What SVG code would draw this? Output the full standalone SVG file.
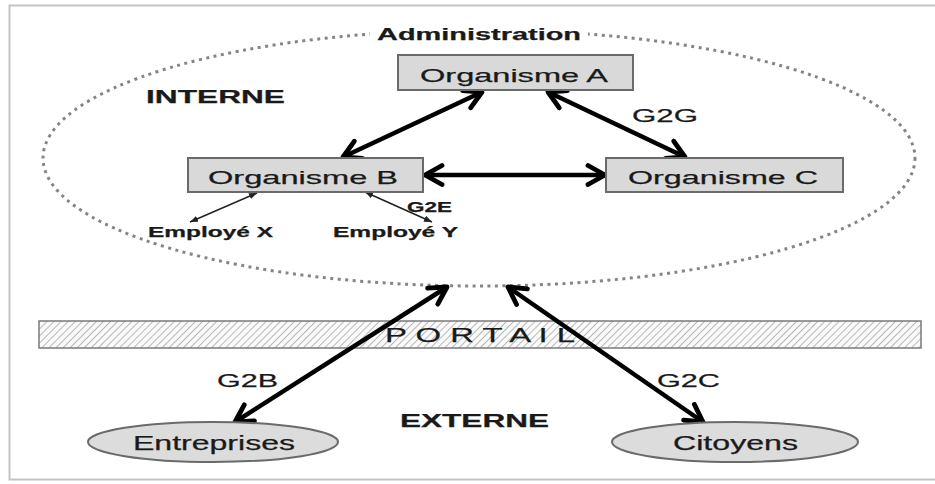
<svg xmlns="http://www.w3.org/2000/svg" width="935" height="484" viewBox="0 0 935 484">
<style>
  text { font-family: "Liberation Sans", Arial, sans-serif; fill: #1a1a1a; stroke: #1a1a1a; stroke-width: 0.25; }
  .box { fill: #d9d9d9; stroke: #6a6a6a; stroke-width: 2; }
  .ell { fill: #dcdcdc; stroke: #6a6a6a; stroke-width: 2; }
  .lbl { font-size: 19px; }
  .bold { font-weight: bold; }
  .thick { stroke: #000; stroke-width: 4.5; fill: none; marker-start: url(#chev); marker-end: url(#chev); }
  .thin { stroke: #222; stroke-width: 1.6; fill: none; marker-start: url(#tri); marker-end: url(#tri); }
</style>
<defs>
  <marker id="chev" markerUnits="userSpaceOnUse" viewBox="0 0 24 24" markerWidth="24" markerHeight="24" refX="21" refY="12" orient="auto-start-reverse">
    <path d="M4,2.5 L21,12 L4,21.5" fill="none" stroke="#000" stroke-width="4.8" stroke-linecap="round" stroke-linejoin="round"/>
  </marker>
  <marker id="tri" markerUnits="userSpaceOnUse" viewBox="0 0 10 10" markerWidth="8" markerHeight="8" refX="10" refY="5" orient="auto-start-reverse">
    <path d="M0,1 L10,5 L0,9 z" fill="#222"/>
  </marker>
  <pattern id="hatch" patternUnits="userSpaceOnUse" width="5" height="5" patternTransform="rotate(45)">
    <rect width="5" height="5" fill="#fafafa"/>
    <line x1="0" y1="0" x2="0" y2="5" stroke="#9a9a9a" stroke-width="1.4"/>
  </pattern>
</defs>

<!-- frame -->
<rect x="0" y="0" width="935" height="484" fill="#ffffff"/>
<rect x="9.5" y="5.5" width="940" height="474" fill="#ffffff" stroke="#c4c4c4" stroke-width="2"/>

<!-- dotted administration ellipse -->
<g id="administration">
  <ellipse cx="479" cy="158" rx="436" ry="128" fill="none" stroke="#858585" stroke-width="3" stroke-dasharray="3 4.5"/>
  <rect x="370" y="22" width="218" height="22" fill="#ffffff"/>
  <text x="377" y="40" font-size="17" class="bold" textLength="204" lengthAdjust="spacingAndGlyphs">Administration</text>
</g>

<g id="interne"><text x="146" y="103" font-size="18" class="bold" textLength="139" lengthAdjust="spacingAndGlyphs">INTERNE</text></g>
<g id="externe"><text x="400" y="427" font-size="19" class="bold" textLength="149" lengthAdjust="spacingAndGlyphs">EXTERNE</text></g>

<!-- portail -->
<g id="portail">
  <rect x="39" y="321" width="882" height="27" fill="url(#hatch)" stroke="#7a7a7a" stroke-width="1.5"/>
  <text x="385" y="342" font-size="21" textLength="190" lengthAdjust="spacingAndGlyphs">P O R T A I L</text>
</g>

<!-- connectors -->
<g id="connectors">
  <line class="thick" x1="482" y1="92" x2="343" y2="157"/>
  <line class="thick" x1="548" y1="92" x2="685" y2="157"/>
  <line class="thick" x1="425" y1="175" x2="605" y2="175"/>
  <line class="thick" x1="447" y1="287" x2="235" y2="422"/>
  <line class="thick" x1="508" y1="287" x2="703" y2="422"/>
  <line class="thin" x1="257" y1="193" x2="190" y2="222"/>
  <line class="thin" x1="365" y1="192" x2="432" y2="222"/>
  <text x="632" y="122" class="lbl" textLength="66" lengthAdjust="spacingAndGlyphs">G2G</text>
  <text x="407" y="212" font-size="14" class="bold" textLength="45" lengthAdjust="spacingAndGlyphs">G2E</text>
  <text x="217" y="387" class="lbl" textLength="61" lengthAdjust="spacingAndGlyphs">G2B</text>
  <text x="657" y="387" class="lbl" textLength="63" lengthAdjust="spacingAndGlyphs">G2C</text>
</g>

<!-- nodes -->
<g id="organisme-a">
  <rect class="box" x="398" y="55" width="235" height="35"/>
  <text x="420" y="82" class="lbl" textLength="188" lengthAdjust="spacingAndGlyphs">Organisme A</text>
</g>
<g id="organisme-b">
  <rect class="box" x="188" y="158" width="235" height="34"/>
  <text x="208" y="184" class="lbl" textLength="190" lengthAdjust="spacingAndGlyphs">Organisme B</text>
</g>
<g id="organisme-c">
  <rect class="box" x="606" y="158" width="237" height="34"/>
  <text x="628" y="184" class="lbl" textLength="190" lengthAdjust="spacingAndGlyphs">Organisme C</text>
</g>
<g id="employe-x">
  <text x="148" y="237" font-size="15" class="bold" textLength="125" lengthAdjust="spacingAndGlyphs">Employé X</text>
</g>
<g id="employe-y">
  <text x="333" y="237" font-size="15" class="bold" textLength="125" lengthAdjust="spacingAndGlyphs">Employé Y</text>
</g>
<g id="entreprises">
  <ellipse class="ell" cx="213" cy="442" rx="125" ry="20"/>
  <text x="133" y="450" font-size="20" textLength="162" lengthAdjust="spacingAndGlyphs">Entreprises</text>
</g>
<g id="citoyens">
  <ellipse class="ell" cx="735" cy="442" rx="123" ry="20"/>
  <text x="673" y="450" font-size="20" textLength="125" lengthAdjust="spacingAndGlyphs">Citoyens</text>
</g>
</svg>
